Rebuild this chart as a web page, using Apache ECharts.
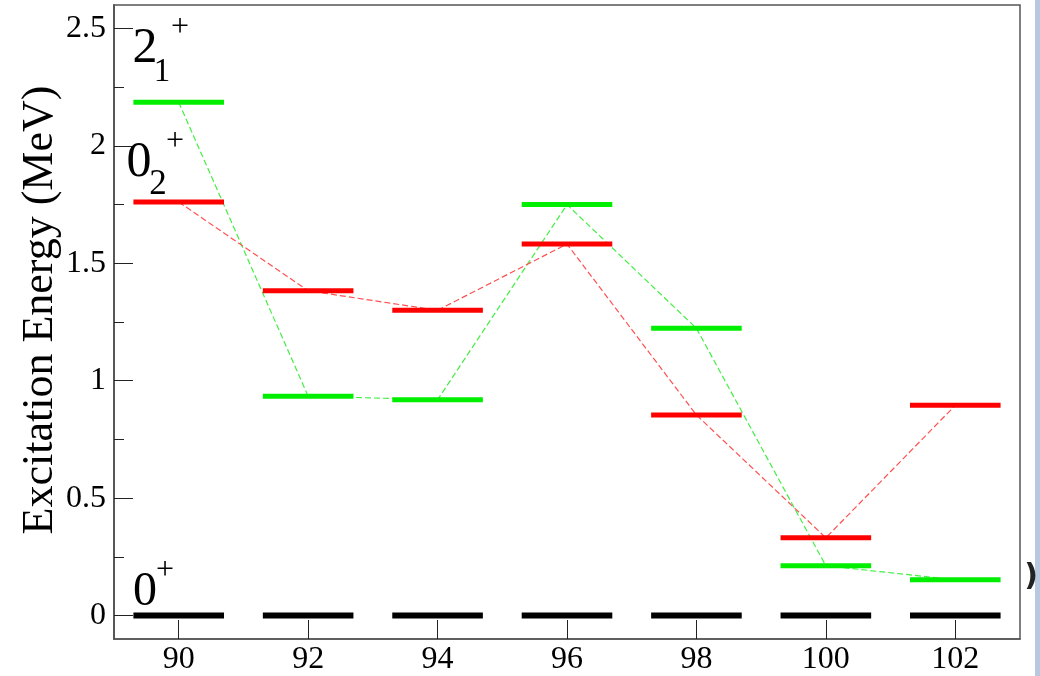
<!DOCTYPE html>
<html>
<head>
<meta charset="utf-8">
<title>Excitation energies</title>
<script src="https://cdn.jsdelivr.net/npm/echarts@6/dist/echarts.min.js"></script>
<style>
  html, body { margin: 0; padding: 0; background: #ffffff; }
  #chart { width: 1040px; height: 676px; }
</style>
</head>
<body>
<div id="chart"></div>
<script>
// Mass numbers along the x axis
const massNumbers = ['90', '92', '94', '96', '98', '100', '102'];
// Level energies in MeV
const groundState = [0, 0, 0, 0, 0, 0, 0];
const firstTwoPlus = [2.186, 0.934, 0.919, 1.750, 1.223, 0.212, 0.152];
const secondZeroPlus = [1.761, 1.383, 1.300, 1.582, 0.854, 0.331, 0.895];
// Energy axis ticks
const yMajorTicks = [0, 0.5, 1, 1.5, 2, 2.5];
const yMinorTicks = [0.25, 0.75, 1.25, 1.75, 2.25];

const serif = 'Liberation Serif';
const frameColor = '#555555';

function toPairs(values) {
  return values.map((v, i) => [i, v]);
}

// Each level is a short horizontal bar centred on its mass number
function levelBar(color, thickness) {
  return function (params, api) {
    const c = api.coord([api.value(0), api.value(1)]);
    const w = api.size([1, 0])[0] * 0.7;
    return {
      type: 'rect',
      shape: { x: c[0] - w / 2, y: c[1] - thickness / 2, width: w, height: thickness },
      style: { fill: color }
    };
  };
}

function energyAxis(ticks, tickLength, showLabels) {
  return {
    type: 'value',
    min: -0.1,
    max: 2.6,
    position: 'left',
    axisLine: { show: true, lineStyle: { color: frameColor, width: 1.5 } },
    axisTick: {
      show: true, inside: true, length: tickLength,
      customValues: ticks,
      lineStyle: { color: '#222222', width: 1 }
    },
    axisLabel: {
      show: showLabels,
      customValues: ticks,
      fontFamily: serif, fontSize: 32, color: '#000000', margin: 8,
      formatter: v => String(v)
    },
    splitLine: { show: false }
  };
}

const chart = echarts.init(document.getElementById('chart'), null, { renderer: 'canvas' });

const labelText = (text, x, y, size) => ({
  type: 'text', x: x, y: y, z: 50,
  style: {
    text: text, fill: '#000000', font: size + 'px "' + serif + '"',
    align: 'center', verticalAlign: 'middle'
  }
});

chart.setOption({
  animation: false,
  backgroundColor: '#ffffff',
  grid: {
    left: 114, right: 20, top: 5, bottom: 33,
    show: true, borderColor: frameColor, borderWidth: 1.5, backgroundColor: 'transparent'
  },
  xAxis: {
    type: 'category',
    data: massNumbers,
    boundaryGap: true,
    axisLine: { show: true, onZero: false, lineStyle: { color: frameColor, width: 1.5 } },
    axisTick: { show: true, inside: true, length: 19, alignWithLabel: true, lineStyle: { color: '#222222', width: 1 } },
    axisLabel: { fontFamily: serif, fontSize: 32, color: '#000000', margin: 5 },
    splitLine: { show: false }
  },
  yAxis: [
    energyAxis(yMajorTicks, 19, true),
    energyAxis(yMinorTicks, 10, false)
  ],
  series: [
    {
      name: '2+ trend', type: 'line', data: firstTwoPlus, symbol: 'none', z: 2,
      lineStyle: { color: '#44ee44', width: 1.2, type: [6, 3] }
    },
    {
      name: '0+ trend', type: 'line', data: secondZeroPlus, symbol: 'none', z: 2,
      lineStyle: { color: '#ff5050', width: 1.2, type: [6, 3] }
    },
    { name: '0+ ground', type: 'custom', data: toPairs(groundState), renderItem: levelBar('#000000', 6), z: 5 },
    { name: '2+ (1st)', type: 'custom', data: toPairs(firstTwoPlus), renderItem: levelBar('#00ee00', 5), z: 5 },
    { name: '0+ (2nd)', type: 'custom', data: toPairs(secondZeroPlus), renderItem: levelBar('#ff0000', 5), z: 5 }
  ],
  graphic: [
    // vertical axis title
    {
      type: 'text', x: 40, y: 310, rotation: Math.PI / 2, z: 50,
      style: {
        text: 'Excitation Energy (MeV)', fill: '#000000',
        font: '44px "' + serif + '"', align: 'center', verticalAlign: 'middle'
      }
    },
    // 2_1^+
    labelText('2', 145, 49, 50),
    labelText('1', 162, 72, 33),
    labelText('+', 180, 28, 32),
    // 0_2^+
    labelText('0', 139, 163, 50),
    labelText('2', 158, 185, 35),
    labelText('+', 175, 142, 32),
    // 0^+
    labelText('0', 145, 592, 48),
    labelText('+', 165, 571, 32),
    // slide edge
    {
      type: 'rect', z: 1,
      shape: { x: 1035, y: 0, width: 5, height: 676 },
      style: { fill: '#b8c8e0' }
    },
    {
      type: 'text', x: 1031, y: 577, z: 50,
      style: {
        text: ')', fill: '#222222', font: 'bold 30px "DejaVu Sans"',
        align: 'center', verticalAlign: 'middle'
      }
    }
  ]
});
</script>
</body>
</html>
